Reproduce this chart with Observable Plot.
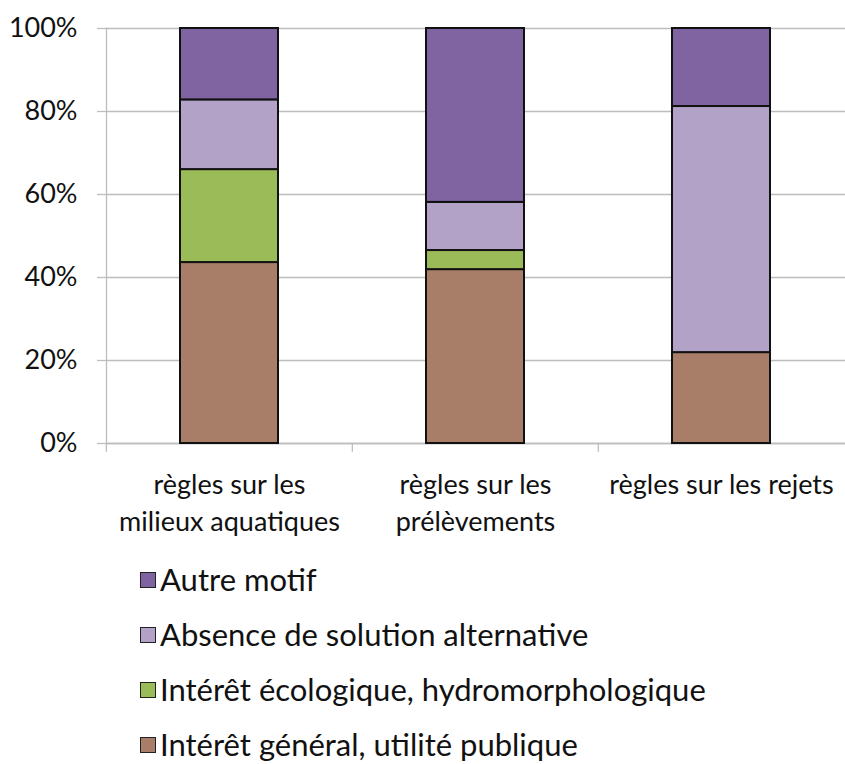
<!DOCTYPE html>
<html><head><meta charset="utf-8">
<script src="https://cdn.jsdelivr.net/npm/d3@7"></script>
<script src="https://cdn.jsdelivr.net/npm/@observablehq/plot@0.6"></script>
<style>
body{margin:0;background:#fff;font-family:Lato,"Open Sans",sans-serif;overflow:hidden;}
#legend{padding-left:140px;padding-top:9px;}
.item{height:55px;display:flex;align-items:center;font-size:31px;line-height:1.15;color:#111;}
.sw{width:14px;height:14px;border:1.5px solid #222;margin-right:4px;flex:none;}
</style></head>
<body><div id="chart"></div><div id="legend"></div>
<script>
const categories = ["règles sur les\nmilieux aquatiques", "règles sur les\nprélèvements", "règles sur les rejets"];
const series = ["Intérêt général, utilité publique", "Intérêt écologique, hydromorphologique", "Absence de solution alternative", "Autre motif"];
const colors = ["#A97E69", "#9BBB59", "#B3A2C7", "#8064A2"];
const interetGeneral = [0.436, 0.419, 0.219];
const interetEcologique = [0.224, 0.046, 0.0];
const absenceSolution = [0.168, 0.116, 0.593];
const autreMotif = [0.172, 0.419, 0.188];
const yTicks = [0, 0.2, 0.4, 0.6, 0.8, 1.0];

const valuesBySeries = [interetGeneral, interetEcologique, absenceSolution, autreMotif];
const data = [];
series.forEach((s, i) => categories.forEach((c, j) => data.push({category: c, series: s, value: valuesBySeries[i][j]})));

const W = 845, step = (W - 106) / categories.length;
const chart = Plot.plot({
  width: W, height: 543,
  marginLeft: 106, marginRight: 0, marginTop: 28, marginBottom: 100,
  style: {fontFamily: "Lato, 'Open Sans', sans-serif", color: "#111", background: "#fff"},
  x: {domain: categories, paddingInner: 0.6, paddingOuter: 0.3, label: null},
  y: {domain: [0, 1], label: null},
  color: {domain: series, range: colors},
  marks: [
    Plot.gridY(yTicks, {stroke: "#bdbdbd", strokeOpacity: 1, strokeWidth: 1.3}),
    Plot.axisY(yTicks, {tickFormat: d => Math.round(d * 100) + "%", tickSize: 9, tickPadding: 20, fontSize: 27, stroke: "#bdbdbd", strokeWidth: 1.3, label: null}),
    Plot.ruleX(categories, {x: d => d, y1: 0, y2: -0.021, dx: -step / 2, stroke: "#bdbdbd", strokeWidth: 1.3}),
    Plot.frame({anchor: "left", stroke: "#bdbdbd", strokeWidth: 1.3}),
    Plot.ruleY([0], {stroke: "#bdbdbd", strokeWidth: 1.3}),
    Plot.barY(data, Plot.stackY({order: series}, {x: "category", y: "value", fill: "series", stroke: "#111", strokeWidth: 2})),
    Plot.axisX({tickSize: 0, tickPadding: 24, fontSize: 27, lineHeight: 1.37, label: null})
  ]
});
document.getElementById("chart").appendChild(chart);

const legend = document.getElementById("legend");
for (let i = series.length - 1; i >= 0; i--) {
  const item = document.createElement("div");
  item.className = "item";
  const sw = document.createElement("span");
  sw.className = "sw";
  sw.style.background = colors[i];
  const t = document.createElement("span");
  t.textContent = series[i];
  item.appendChild(sw); item.appendChild(t);
  legend.appendChild(item);
}
</script></body></html>
